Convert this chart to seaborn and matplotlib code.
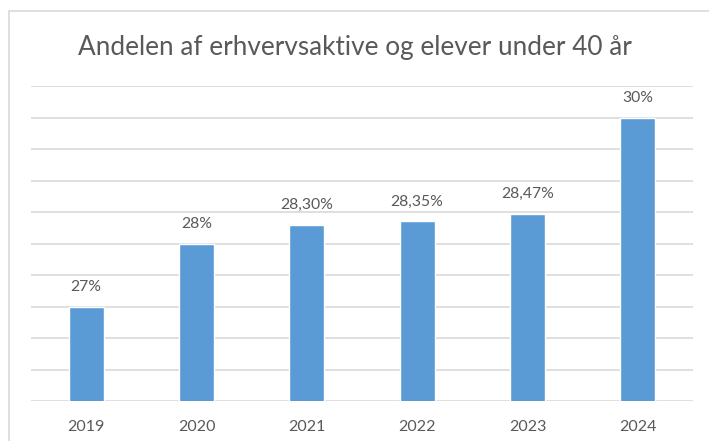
import matplotlib
matplotlib.use("Agg")
import matplotlib.pyplot as plt
import seaborn as sns
import pandas as pd
import numpy as np
from matplotlib.patches import Rectangle

years = ["2019", "2020", "2021", "2022", "2023", "2024"]
values = [27.0, 28.0, 28.30, 28.35, 28.47, 30.0]
value_labels = ["27%", "28%", "28,30%", "28,35%", "28,47%", "30%"]
title = "Andelen af erhvervsaktive og elever under 40 år"

sns.set_theme(style="white")
plt.rcParams["font.family"] = ["Lato", "DejaVu Sans"]

W, H = 709, 441
fig = plt.figure(figsize=(W / 100, H / 100), dpi=100)
fig.patch.set_facecolor("white")

# chart border
fig.patches.append(Rectangle((9 / W, -0.1), 1.1, 1 - 11 / H + 0.1, transform=fig.transFigure,
                             fill=False, edgecolor="#D9D9D9", linewidth=1.2))

ax = fig.add_axes([31 / W, 1 - 401 / H, (693 - 31) / W, (401 - 86) / H])
df = pd.DataFrame({"year": years, "value": values})
sns.barplot(data=df, x="year", y="value", color="#5B9BD5", saturation=1, width=0.32, ax=ax, zorder=3)

ax.set_ylim(25.5, 30.5)
ax.set_yticks(np.arange(25.5, 30.51, 0.5))
ax.yaxis.grid(True, color="#D9D9D9", linewidth=1.2, zorder=0)
ax.set_axisbelow(True)
ax.tick_params(axis="y", left=False, labelleft=False)
ax.tick_params(axis="x", bottom=False, labelsize=11.5, colors="#595959", pad=8)
for s in ax.spines.values():
    s.set_visible(False)
ax.set_xlabel("")
ax.set_ylabel("")

for i, (v, lab) in enumerate(zip(values, value_labels)):
    ax.annotate(lab, (i, v), xytext=(0, 13), textcoords="offset pixels",
                ha="center", va="bottom", fontsize=11.3, color="#595959")

fig.text(0.5, 1 - 47 / H, title, ha="center", va="center", fontsize=18.8, color="#595959")

fig.savefig("out.png", dpi=100)
